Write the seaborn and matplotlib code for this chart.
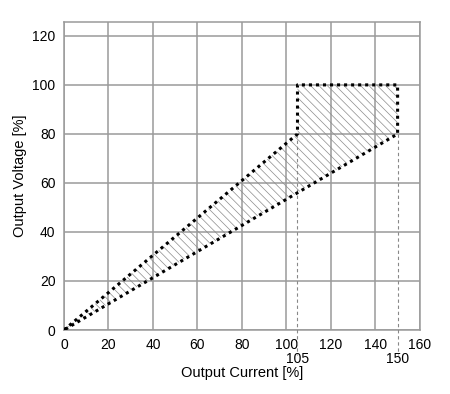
import numpy as np
import pandas as pd
import matplotlib
matplotlib.use('Agg')
import matplotlib.pyplot as plt
import seaborn as sns

# operating area outline (output current % vs output voltage %)
current = [0, 105, 105, 150, 150, 0]
voltage = [0, 80, 100, 100, 80, 0]

# dashed markers for the current limits
limit_current = [105, 150]
limit_voltage_top = 80

x_ticks = [0, 20, 40, 60, 80, 100, 120, 140, 160]
y_ticks = [0, 20, 40, 60, 80, 100, 120]

sns.set_theme(style='whitegrid', rc={
  'grid.color': '#9a9a9a',
  'grid.linewidth': 1.1,
  'axes.edgecolor': '#9a9a9a',
  'axes.linewidth': 1.1,
  'text.color': 'black',
  'axes.labelcolor': 'black',
})
plt.rcParams['font.family'] = ['Liberation Sans', 'DejaVu Sans']
plt.rcParams['hatch.linewidth'] = 0.5

df = pd.DataFrame({'current': current, 'voltage': voltage})

fig = plt.figure(figsize=(4.5, 3.94), dpi=100)
ax = fig.add_axes([0.142, 0.1624, 0.791, 0.782])

ax.fill(df['current'], df['voltage'], facecolor='none', edgecolor='#8c8c8c', linewidth=0,
        hatch='\\\\\\\\')
sns.lineplot(data=df, x='current', y='voltage', sort=False, estimator=None, ax=ax,
             color='black', linewidth=2.2, linestyle=(0, (1, 1.3)), zorder=5)

for xc in limit_current:
  ax.plot([xc, xc], [limit_voltage_top, -10], color='#888888', linewidth=0.8,
          linestyle=(0, (3, 2.5)), clip_on=False, zorder=4)
  ax.text(xc, -0.07, str(xc), transform=ax.get_xaxis_transform(), ha='center', va='top',
          fontsize=10, color='black')

ax.set_xlim(0, 160)
ax.set_ylim(0, 125.7)
ax.set_xticks(x_ticks)
ax.set_yticks(y_ticks)
ax.tick_params(length=0, pad=6, labelsize=10, colors='black')
ax.set_xlabel('Output Current [%]', fontsize=10.5, labelpad=10)
ax.set_ylabel('Output Voltage [%]', fontsize=10.5, labelpad=4)

plt.savefig('out.png', dpi=100)
